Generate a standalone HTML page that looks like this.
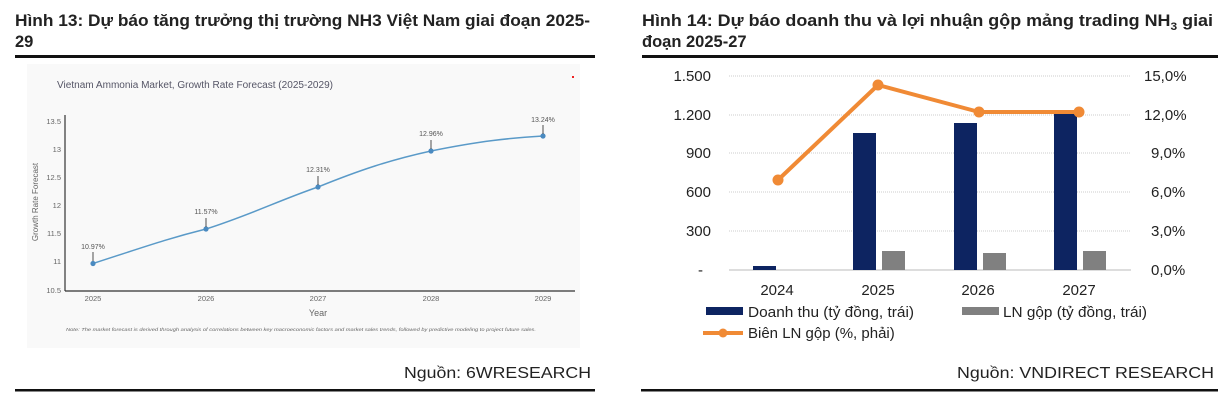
<!DOCTYPE html>
<html><head><meta charset="utf-8"><style>
body{margin:0;width:1227px;height:401px;background:#fff;overflow:hidden;font-family:"Liberation Sans",Arial,sans-serif}
</style></head><body>
<svg width="1227" height="401" xmlns="http://www.w3.org/2000/svg" font-family="Liberation Sans, Arial, sans-serif">
<!-- Left panel -->
<text x="15" y="26" font-size="16.5" font-weight="bold" fill="#222" textLength="575" lengthAdjust="spacingAndGlyphs">Hình 13: Dự báo tăng trưởng thị trường NH3 Việt Nam giai đoạn 2025-</text>
<text x="15" y="47" font-size="16.5" font-weight="bold" fill="#222">29</text>
<rect x="15" y="55" width="580" height="3" fill="#111"/>
<rect x="27" y="64" width="553" height="284" fill="#f9f9f9"/>
<rect x="572" y="76" width="2" height="2" fill="#e22"/>
<text x="57" y="88" font-size="10" fill="#556" textLength="276" lengthAdjust="spacingAndGlyphs">Vietnam Ammonia Market, Growth Rate Forecast (2025-2029)</text>
<line x1="65" y1="115" x2="65" y2="291" stroke="#333" stroke-width="1.2"/>
<line x1="65" y1="291" x2="575" y2="291" stroke="#333" stroke-width="1.2"/>
<g font-size="7.5" fill="#666" text-anchor="end">
<text x="61" y="124">13.5</text><text x="61" y="152">13</text><text x="61" y="180">12.5</text>
<text x="61" y="208">12</text><text x="61" y="236">11.5</text><text x="61" y="264">11</text><text x="61" y="293">10.5</text>
</g>
<g font-size="7.5" fill="#666" text-anchor="middle">
<text x="93" y="301">2025</text><text x="206" y="301">2026</text><text x="318" y="301">2027</text><text x="431" y="301">2028</text><text x="543" y="301">2029</text>
<text x="318" y="316" font-size="9">Year</text>
</g>
<text transform="translate(38,202) rotate(-90)" font-size="8" fill="#666" text-anchor="middle">Growth Rate Forecast</text>
<text x="66" y="331" font-size="4.8" font-style="italic" fill="#666" textLength="470" lengthAdjust="spacingAndGlyphs">Note: The market forecast is derived through analysis of correlations between key macroeconomic factors and market sales trends, followed by predictive modeling to project future sales.</text>
<path d="M93,263.5 C150,245 170,238 206,229 C250,215 280,200 318,187 C360,170 390,160 431,151 C480,141 510,138 543,136" fill="none" stroke="#5a9ac8" stroke-width="1.5"/>
<g fill="#4a8ac0"><circle cx="93" cy="263.5" r="2.6"/><circle cx="206" cy="229" r="2.6"/><circle cx="318" cy="187" r="2.6"/><circle cx="431" cy="151" r="2.6"/><circle cx="543" cy="136" r="2.6"/></g>
<g stroke="#222" stroke-width="0.8"><line x1="93" y1="252" x2="93" y2="261"/><line x1="206" y1="218" x2="206" y2="227"/><line x1="318" y1="176" x2="318" y2="185"/><line x1="431" y1="140" x2="431" y2="149"/><line x1="543" y1="125" x2="543" y2="134"/></g>
<g font-size="7" fill="#555" text-anchor="middle">
<text x="93" y="249">10.97%</text><text x="206" y="214">11.57%</text><text x="318" y="172">12.31%</text><text x="431" y="136">12.96%</text><text x="543" y="122">13.24%</text>
</g>
<text x="591" y="378" font-size="16" fill="#222" text-anchor="end" textLength="187" lengthAdjust="spacingAndGlyphs">Nguồn: 6WRESEARCH</text>
<rect x="15" y="389" width="580" height="2.5" fill="#111"/>

<!-- Right panel -->
<text x="642" y="26" font-size="16.5" font-weight="bold" fill="#222" textLength="571" lengthAdjust="spacingAndGlyphs">Hình 14: Dự báo doanh thu và lợi nhuận gộp mảng trading NH<tspan font-size="11" dy="4">3</tspan><tspan dy="-4"> giai</tspan></text>
<text x="642" y="47" font-size="16.5" font-weight="bold" fill="#222">đoạn 2025-27</text>
<rect x="642" y="55" width="576" height="3" fill="#111"/>
<g stroke="#ccc" stroke-width="1" stroke-dasharray="1,1">
<line x1="729" y1="76" x2="1131" y2="76"/><line x1="729" y1="115" x2="1131" y2="115"/><line x1="729" y1="153" x2="1131" y2="153"/><line x1="729" y1="192" x2="1131" y2="192"/><line x1="729" y1="231" x2="1131" y2="231"/>
</g>
<line x1="729" y1="270" x2="1131" y2="270" stroke="#bbb" stroke-width="1"/>
<g font-size="15" fill="#222" text-anchor="end">
<text x="711" y="81">1.500</text><text x="711" y="120">1.200</text><text x="711" y="158">900</text><text x="711" y="197">600</text><text x="711" y="236">300</text><text x="703" y="275">-</text>
</g>
<g font-size="15" fill="#222">
<text x="1144" y="81">15,0%</text><text x="1144" y="120">12,0%</text><text x="1151" y="158">9,0%</text><text x="1151" y="197">6,0%</text><text x="1151" y="236">3,0%</text><text x="1151" y="275">0,0%</text>
</g>
<g fill="#0d2461">
<rect x="753" y="266" width="23" height="4"/><rect x="853" y="133" width="23" height="137"/><rect x="954" y="123" width="23" height="147"/><rect x="1054" y="114" width="23" height="156"/>
</g>
<g fill="#808080">
<rect x="882" y="251" width="23" height="19"/><rect x="983" y="253" width="23" height="17"/><rect x="1083" y="251" width="23" height="19"/>
</g>
<polyline points="778,180 878,85 979,112 1079,112" fill="none" stroke="#f08a35" stroke-width="4" stroke-linejoin="round"/>
<g fill="#f08a35"><circle cx="778" cy="180" r="5.5"/><circle cx="878" cy="85" r="5.5"/><circle cx="979" cy="112" r="5.5"/><circle cx="1079" cy="112" r="5.5"/></g>
<g font-size="15" fill="#222" text-anchor="middle">
<text x="777" y="295">2024</text><text x="878" y="295">2025</text><text x="978" y="295">2026</text><text x="1079" y="295">2027</text>
</g>
<rect x="706" y="307" width="37" height="8" fill="#0d2461"/>
<text x="748" y="317" font-size="15" fill="#222" textLength="166" lengthAdjust="spacingAndGlyphs">Doanh thu (tỷ đồng, trái)</text>
<rect x="962" y="307" width="37" height="8" fill="#808080"/>
<text x="1003" y="317" font-size="15" fill="#222" textLength="144" lengthAdjust="spacingAndGlyphs">LN gộp (tỷ đồng, trái)</text>
<line x1="703" y1="333" x2="743" y2="333" stroke="#f08a35" stroke-width="4"/>
<circle cx="723" cy="333" r="4.5" fill="#f08a35"/>
<text x="748" y="338" font-size="15" fill="#222">Biên LN gộp (%, phải)</text>
<text x="1214" y="378" font-size="16" fill="#222" text-anchor="end" textLength="257" lengthAdjust="spacingAndGlyphs">Nguồn: VNDIRECT RESEARCH</text>
<rect x="641" y="389" width="577" height="2.5" fill="#111"/>
</svg>
</body></html>
